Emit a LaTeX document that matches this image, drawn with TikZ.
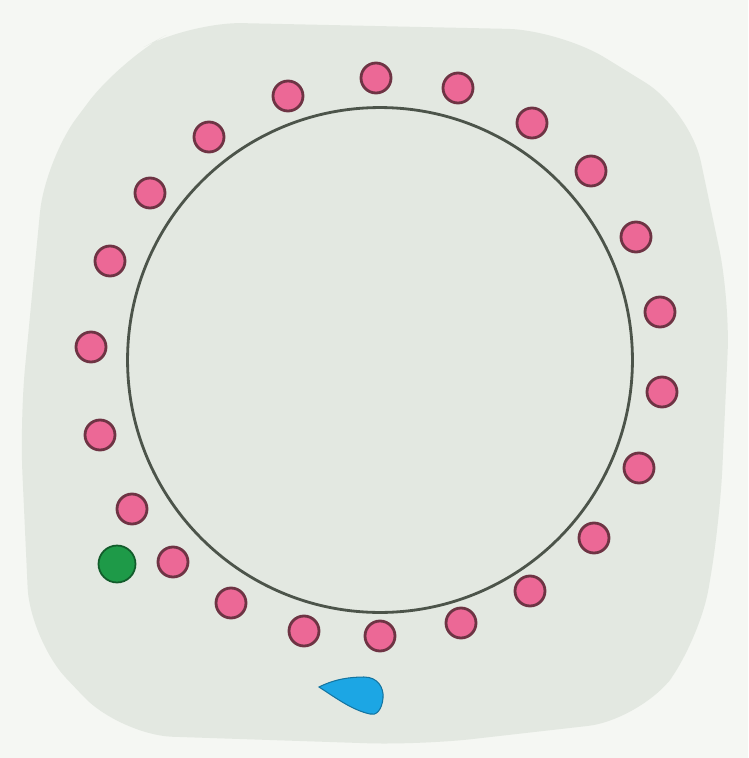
\documentclass[tikz,border=0pt]{standalone}
\usepackage{xcolor}
\usepackage{tikz}
\usetikzlibrary{positioning, calc}
\definecolor{paper}{HTML}{F5F7F3}
\definecolor{wash}{HTML}{E3E8E1}
\definecolor{ringline}{HTML}{4C544A}
\definecolor{beadfill}{HTML}{EC6896}
\definecolor{beadline}{HTML}{6E3444}
\definecolor{greenbead}{HTML}{1E9A48}
\definecolor{dropfill}{HTML}{1CA6E4}
\tikzset{
    ring/.style={circle, draw=ringline, line width=1.6pt, minimum size=10.1cm, inner sep=0pt},
    bead/.style={circle, draw=beadline, fill=beadfill, line width=1.6pt, minimum size=0.6cm, inner sep=0pt},
    seed/.style={circle, draw=greenbead!60!black, fill=greenbead, line width=1pt, minimum size=0.74cm, inner sep=0pt}
}

\begin{document}
\begin{tikzpicture}[x=0.02cm, y=-0.02cm]
        % page and grey wash
        \fill [paper] (0,0) rectangle (748,758);
        \useasboundingbox (0,0) rectangle (748,758);
        \fill [wash, rounded corners=30pt] (190,22) -- (560,30) -- (690,110) -- (730,300) -- (720,520) -- (700,640) -- (640,720) -- (420,745) -- (120,735) -- (30,640) -- (20,420) -- (45,160) -- (120,60) -- cycle;

        % big circle
        \node [ring] (cell) at (380,360) {};

        % pink beads round the circle
        \foreach \px/\py [count=\i] in {376/78, 458/88, 532/123, 591/171, 636/237, 660/312, 662/392, 639/468, 594/538, 530/591, 461/623, 380/636, 304/631, 231/603, 173/562, 132/509, 100/435, 91/347, 110/261, 150/193, 209/137, 288/96}
            \node [bead] (b\i) at (\px,\py) {};

        % green bead and blue drop
        \node [seed] (green) at (117,564) {};
        \coordinate (droptip) at (319,687);
        \fill [dropfill, draw=dropfill!70!black, line width=0.6pt] (droptip) .. controls (335,679) and (350,677) .. (364,677) .. controls (378,677) and (384,688) .. (383,698) .. controls (382,710) and (376,716) .. (370,714) .. controls (352,710) and (336,698) .. (droptip) -- cycle;
    \end{tikzpicture}
\end{document}
